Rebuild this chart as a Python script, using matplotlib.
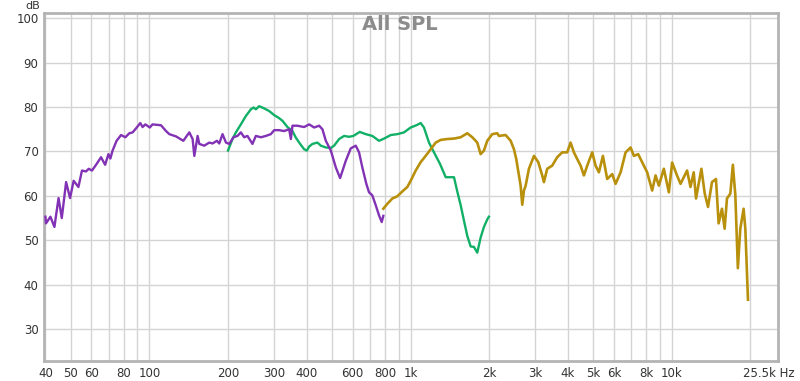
import numpy as np
import matplotlib.pyplot as plt
from matplotlib.ticker import FixedLocator, NullFormatter
from matplotlib.transforms import ScaledTranslation

# purple trace (woofer), Hz / dB
purple_f = [40, 40.2, 41.8, 43.3, 44.9, 46.2, 48.0, 49.7, 51.3, 53.5, 55.2, 57.2, 58.6,
            60.3, 62.5, 65.3, 67.7, 69.7, 70.9, 72.3, 74.9, 77.9, 80.9, 83.8, 86.3, 88.9,
            92.3, 94.2, 96.5, 100.4, 102.8, 110.8, 115.8, 119.2, 126.4, 134.9, 142.2,
            146.4, 148.6, 153.0, 155.3, 162.2, 169.5, 174.5, 181.4, 185.1, 190.6, 196.4,
            202.2, 209.9, 217.4, 224.0, 230.6, 237.4, 248.1, 255.6, 267.2, 279.2, 291.8,
            300.4, 313.9, 328.1, 342.9, 348.1, 353.0, 368.8, 391.2, 408.9, 427.3, 446.6,
            459.7, 473.7, 495.0, 517.3, 537.2, 564.8, 590.2, 616.8, 634.9, 653.6, 677.0,
            693.3, 713.7, 735.4, 757.1, 775.4, 786.3]
purple_db = [55.3, 53.8, 55.3, 53.0, 59.5, 55.0, 63.1, 59.5, 63.4, 62.0, 65.7, 65.5, 66.1,
             65.7, 67.0, 68.7, 67.0, 69.4, 68.4, 70.2, 72.4, 73.7, 73.2, 74.1, 74.3, 75.2,
             76.4, 75.5, 76.1, 75.4, 76.1, 75.9, 74.6, 73.9, 73.4, 72.4, 74.3, 72.8,
             69.0, 73.5, 71.7, 71.3, 72.0, 71.8, 72.4, 71.8, 73.9, 72.0,
             71.7, 73.2, 73.5, 74.3, 73.2, 73.5, 71.7, 73.5, 73.2, 73.5, 73.9,
             74.8, 74.8, 74.6, 75.0, 72.8, 75.8, 75.8, 75.5, 76.1, 75.4, 75.8,
             75.0, 72.4, 70.2, 66.4, 64.0, 67.9, 70.7, 71.3, 69.8, 66.4, 62.7,
             60.8, 60.1, 57.9, 55.6, 54.1, 55.5]

# green trace (mid)
green_f = [200, 208.1, 214.4, 224.0, 234.2, 244.7, 250.4, 255.7, 263.2, 275.1, 287.5,
           300.4, 313.9, 323.3, 337.8, 353.0, 363.7, 377.7, 391.2, 400.7, 408.9, 421.0,
           439.9, 453.3, 473.7, 495.0, 509.6, 532.6, 556.6, 581.6, 603.9, 639.0, 673.6,
           713.7, 757.1, 791.4, 839.5, 889.7, 943.7, 1001, 1052, 1093, 1125, 1176, 1229,
           1296, 1363, 1466, 1509, 1555, 1601, 1648, 1698, 1748, 1800, 1854, 1909, 1966,
           1994]
green_db = [70.2, 72.8, 74.3, 76.1, 78.0, 79.5, 79.9, 79.5, 80.2, 79.7, 79.1,
            78.2, 77.5, 76.9, 75.5, 74.6, 73.1, 71.7, 70.5, 70.2, 71.1, 71.7,
            72.0, 71.3, 70.9, 70.8, 71.3, 72.8, 73.5, 73.3, 73.5, 74.4, 73.9,
            73.5, 72.4, 72.9, 73.7, 73.9, 74.3, 75.4, 75.9, 76.4, 75.4, 72.0, 69.8,
            67.2, 64.2, 64.2, 61.0, 57.9, 54.4, 51.0, 48.6, 48.5, 47.2, 50.6, 53.0, 54.7,
            55.3]

# gold trace (tweeter)
gold_f = [786.3, 814.5, 851.2, 889.7, 929.8, 971.6, 1001, 1046, 1093, 1142, 1194, 1248,
          1304, 1382, 1466, 1555, 1648, 1723, 1800, 1854, 1909, 1966, 2054, 2146, 2179,
          2311, 2416, 2487, 2538, 2599, 2638, 2676, 2716, 2757, 2838, 2967, 3081, 3191,
          3239, 3334, 3484, 3641, 3806, 3977, 4098, 4219, 4344, 4476, 4608, 4744, 4958,
          5108, 5259, 5448, 5658, 5913, 6093, 6367, 6654, 6954, 7159, 7434, 7816, 8048,
          8410, 8666, 8921, 9322, 9742, 10030, 10470, 10800, 11440, 11790, 12130, 12380,
          12980, 13370, 13760, 14250, 14760, 15110, 15560, 15930, 16260, 16750, 17130,
          17510, 17900, 18290, 18830, 19120, 19570]
gold_db = [57.1, 58.2, 59.4, 59.9, 61.0, 62.0, 63.4, 65.7, 67.6, 69.0, 70.5, 72.0,
           72.6, 72.8, 72.9, 73.2, 74.1, 73.2, 72.0, 69.4, 70.2, 72.4, 73.9, 74.1, 73.5,
           73.7, 72.4, 70.5, 68.3, 64.6, 62.3, 58.0, 61.2, 62.3, 66.1, 69.0, 67.6, 64.6,
           63.1, 66.1, 66.8, 68.7, 69.8, 69.8, 72.0, 69.8, 68.3, 66.8, 64.6, 66.8, 69.8,
           66.8, 65.3, 69.0, 63.8, 64.9, 62.7, 65.3, 69.8, 70.9, 69.0, 69.4, 66.8, 65.3,
           61.2, 64.6, 62.3, 66.1, 60.8, 67.5, 64.6, 62.7, 65.7, 62.0, 65.3, 59.4,
           66.1, 60.5, 57.5, 63.1, 63.8, 53.8, 57.1, 52.6, 59.4, 60.5, 67.0,
           60.1, 43.7, 52.6, 57.1, 52.6, 36.6]

xgrid = [40, 50, 60, 70, 80, 90, 100, 200, 300, 400, 500, 600, 700, 800, 900,
         1000, 2000, 3000, 4000, 5000, 6000, 7000, 8000, 9000, 10000, 20000]
xticks = [40, 50, 60, 80, 100, 200, 300, 400, 600, 800, 1000, 2000, 3000, 4000,
          5000, 6000, 8000, 10000, 25500]
xlabels = ['40', '50', '60', '80', '100', '200', '300', '400', '600', '800', '1k',
           '2k', '3k', '4k', '5k', '6k', '8k', '10k', '25.5k Hz']
yticks = [30, 40, 50, 60, 70, 80, 90, 100]

fig = plt.figure(figsize=(8, 3.81), dpi=100)
ax = fig.add_axes([0.055, 0.0525, 0.9175, 0.9135])

ax.set_xscale('log')
ax.set_xlim(39.5, 25500)
ax.set_ylim(22.8, 101.2)

for f in xgrid:
    ax.axvline(f, color='#d4d4d4', lw=1, zorder=0)
for y in yticks:
    ax.axhline(y, color='#d4d4d4', lw=1, zorder=0)

ax.plot(purple_f, purple_db, color='#8232b4', lw=1.7, zorder=3)
ax.plot(green_f, green_db, color='#12b066', lw=1.7, zorder=2)
ax.plot(gold_f, gold_db, color='#b8900c', lw=1.9, zorder=2)

ax.xaxis.set_major_locator(FixedLocator(xticks))
ax.xaxis.set_major_formatter(plt.FixedFormatter(xlabels))
ax.xaxis.set_minor_locator(FixedLocator([]))
ax.xaxis.set_minor_formatter(NullFormatter())
ax.set_yticks(yticks)
ax.tick_params(length=0, labelsize=8.5, labelcolor='#333333', pad=4)

# last label sits right of the axis end, like REW does it
last = ax.get_xticklabels()[-1]
last.set_horizontalalignment('right')
last.set_transform(last.get_transform() + ScaledTranslation(0.17, 0, fig.dpi_scale_trans))

for s in ax.spines.values():
    s.set_color('#b4b4b4')
    s.set_linewidth(2)

fig.text(0.041, 0.997, 'dB', fontsize=8, color='#333333', ha='center', va='top')
fig.text(0.5, 0.936, 'All SPL', fontsize=14, color='#8c8c8c', fontweight='bold',
         ha='center', va='center')

fig.savefig('out.png', dpi=100)
